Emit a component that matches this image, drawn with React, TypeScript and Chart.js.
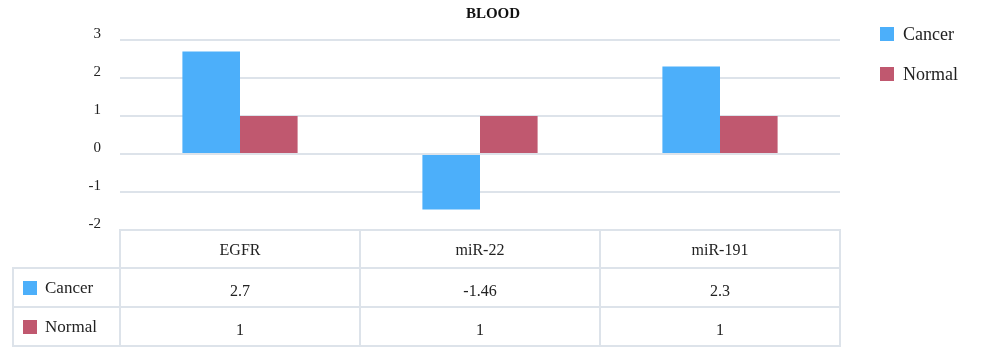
import React, { useEffect, useRef } from "react";
import { Chart, registerables } from "chart.js";

Chart.register(...registerables);

const title = "BLOOD";
const categories = ["EGFR", "miR-22", "miR-191"];
const seriesNames = ["Cancer", "Normal"];
const cancerValues = [2.7, -1.46, 2.3];
const normalValues = [1, 1, 1];
const yTicks = [3, 2, 1, 0, -1, -2];

const seriesValues = [cancerValues, normalValues];
const seriesColors = ["#4CAFFA", "#C0586F"];
const FONT = "'Liberation Serif', 'Times New Roman', serif";
const GRID = "#dde3ea";

export default function App() {
  const canvasRef = useRef<HTMLCanvasElement | null>(null);

  useEffect(() => {
    const canvas = canvasRef.current;
    if (!canvas) return;
    const chart = new Chart(canvas, {
      type: "bar",
      data: {
        labels: categories,
        datasets: seriesNames.map((name, i) => ({
          label: name,
          data: seriesValues[i],
          backgroundColor: seriesColors[i],
          borderWidth: 0,
          categoryPercentage: 0.48,
          barPercentage: 1.0,
        })),
      },
      options: {
        responsive: false,
        animation: false,
        layout: { padding: { left: 0, top: 40, right: 160, bottom: 125 } },
        plugins: {
          legend: { display: false },
          title: { display: false },
          tooltip: { enabled: false },
        },
        scales: {
          x: { display: false },
          y: {
            min: Math.min(...yTicks),
            max: Math.max(...yTicks),
            afterFit: (scale: any) => {
              scale.width = 120;
            },
            ticks: {
              stepSize: 1,
              padding: 19,
              labelOffset: -6,
              color: "#222",
              font: { family: FONT, size: 15 },
            },
            border: { display: false },
            grid: { color: GRID, lineWidth: 2, drawTicks: false },
          },
        },
      },
    });
    return () => chart.destroy();
  }, []);

  const cellBorder = `2px solid ${GRID}`;
  const cellBase: React.CSSProperties = {
    border: cellBorder,
    textAlign: "center",
    padding: 0,
    fontFamily: FONT,
    fontSize: 16,
    color: "#222",
  };

  return (
    <div style={{ position: "absolute", left: 0, top: 0, width: 1000, height: 355, background: "#fff" }}>
      <canvas ref={canvasRef} width={1000} height={355} style={{ position: "absolute", left: 0, top: 0 }} />
      <div
        style={{
          position: "absolute",
          left: 0,
          width: 986,
          top: 4,
          textAlign: "center",
          fontFamily: FONT,
          fontWeight: "bold",
          fontSize: 15,
          lineHeight: "18px",
          color: "#111",
        }}
      >
        {title}
      </div>
      <div style={{ position: "absolute", left: 880, top: 27 }}>
        {seriesNames.map((name, i) => (
          <div key={name} style={{ display: "flex", alignItems: "center", height: 14, marginBottom: 26 }}>
            <div style={{ width: 14, height: 14, background: seriesColors[i] }} />
            <span style={{ marginLeft: 9, fontFamily: FONT, fontSize: 18, color: "#222", lineHeight: "14px" }}>{name}</span>
          </div>
        ))}
      </div>
      <table
        style={{
          position: "absolute",
          left: 12,
          top: 229,
          borderCollapse: "collapse",
          tableLayout: "fixed",
          width: 829,
        }}
      >
        <colgroup>
          <col style={{ width: 107 }} />
          {categories.map((c) => (
            <col key={c} style={{ width: 240 }} />
          ))}
        </colgroup>
        <tbody>
          <tr style={{ height: 38 }}>
            <td style={{ ...cellBase, borderTop: "none", borderLeft: "none" }} />
            {categories.map((c) => (
              <td key={c} style={{ ...cellBase, paddingTop: 2 }}>{c}</td>
            ))}
          </tr>
          {seriesNames.map((name, i) => (
            <tr key={name} style={{ height: 39 }}>
              <td style={{ ...cellBase, textAlign: "left", paddingLeft: 9 }}>
                <div style={{ display: "flex", alignItems: "center" }}>
                  <div style={{ width: 14, height: 14, background: seriesColors[i] }} />
                  <span style={{ marginLeft: 8, fontSize: 17 }}>{name}</span>
                </div>
              </td>
              {seriesValues[i].map((v, j) => (
                <td key={j} style={{ ...cellBase, paddingTop: 6 }}>{String(v)}</td>
              ))}
            </tr>
          ))}
        </tbody>
      </table>
    </div>
  );
}
